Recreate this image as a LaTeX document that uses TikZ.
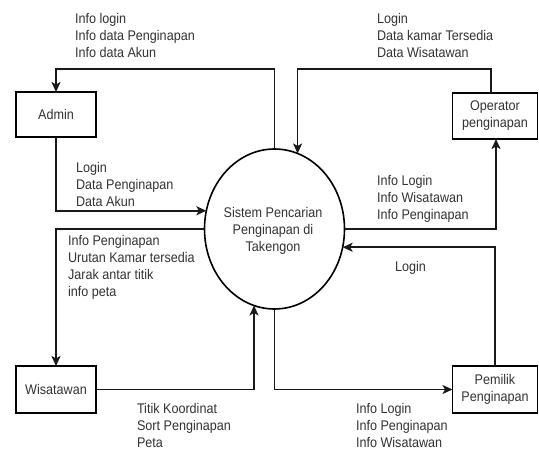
\documentclass[tikz,border=0pt]{standalone}
\usepackage{fontspec}
\setmainfont{Liberation Sans}[FakeStretch=0.9]
\usetikzlibrary{arrows.meta,shapes.geometric}
\begin{document}
\begin{tikzpicture}[x=1pt,y=-1pt,
  every node/.style={inner sep=0pt, outer sep=0pt},
  txt/.style={font=\fontsize{14}{17}\selectfont, text=black!80},
  box/.style={txt, draw=black, line width=1.6pt, minimum width=80pt, minimum height=45pt, align=center},
  lbl/.style={txt, align=left, anchor=north west},
  arr/.style={draw=black!90, line width=1.6pt, -{Stealth[length=10pt,width=9pt,inset=2.5pt]}}]
\fill[white] (0,0) rectangle (539,452);
\useasboundingbox (0,0) rectangle (539,452);
% entities
\node[box] (admin) at (56,114.5) {Admin};
\node[box, minimum width=85pt, minimum height=46pt] (op) at (495,116) {Operator\\penginapan};
\node[box, minimum height=47pt] (wis) at (56,389.5) {Wisatawan};
\node[box, minimum width=85pt, minimum height=47pt] (pem) at (495,389.5) {Pemilik\\Penginapan};
% process
\node[ellipse, draw=black, line width=1.6pt, minimum width=140pt, minimum height=160pt] (ell) at (274.5,229) {};
\node[txt, align=center] (elltxt) at (273,230.5) {Sistem Pencarian\\Penginapan di\\Takengon};
% flows
\draw[arr] (ell.north) -- ++(0,-80) -| (admin.north);
\draw[arr] (admin.south) |- (ell.165.2);
\draw[arr] (ell.west) -| (wis.north);
\draw[arr] (wis.east) -| (ell.255.4);
\draw[arr] (ell.south) |- (pem.west);
\draw[arr] (pem.north) |- (ell.345.2);
\draw[arr] (ell.east) -| ([xshift=1pt]op.south);
\draw[arr] ([xshift=-4pt]op.north) -- ++(0,-24) -| (ell.73);
% labels
\node[lbl] (l1) at (75,13) {Info login\\Info data Penginapan\\Info data Akun};
\node[lbl] (l2) at (377,13) {Login\\Data kamar Tersedia\\Data Wisatawan};
\node[lbl] (l3) at (76,162) {Login\\Data Penginapan\\Data Akun};
\node[lbl] (l4) at (68,235) {Info Penginapan\\Urutan Kamar tersedia\\Jarak antar titik\\info peta};
\node[lbl] (l5) at (377,175) {Info Login\\Info Wisatawan\\Info Penginapan};
\node[lbl] (l6) at (395,261) {Login};
\node[lbl] (l7) at (137,403) {Titik Koordinat\\Sort Penginapan\\Peta};
\node[lbl] (l8) at (356,403) {Info Login\\Info Penginapan\\Info Wisatawan};
\end{tikzpicture}
\end{document}
